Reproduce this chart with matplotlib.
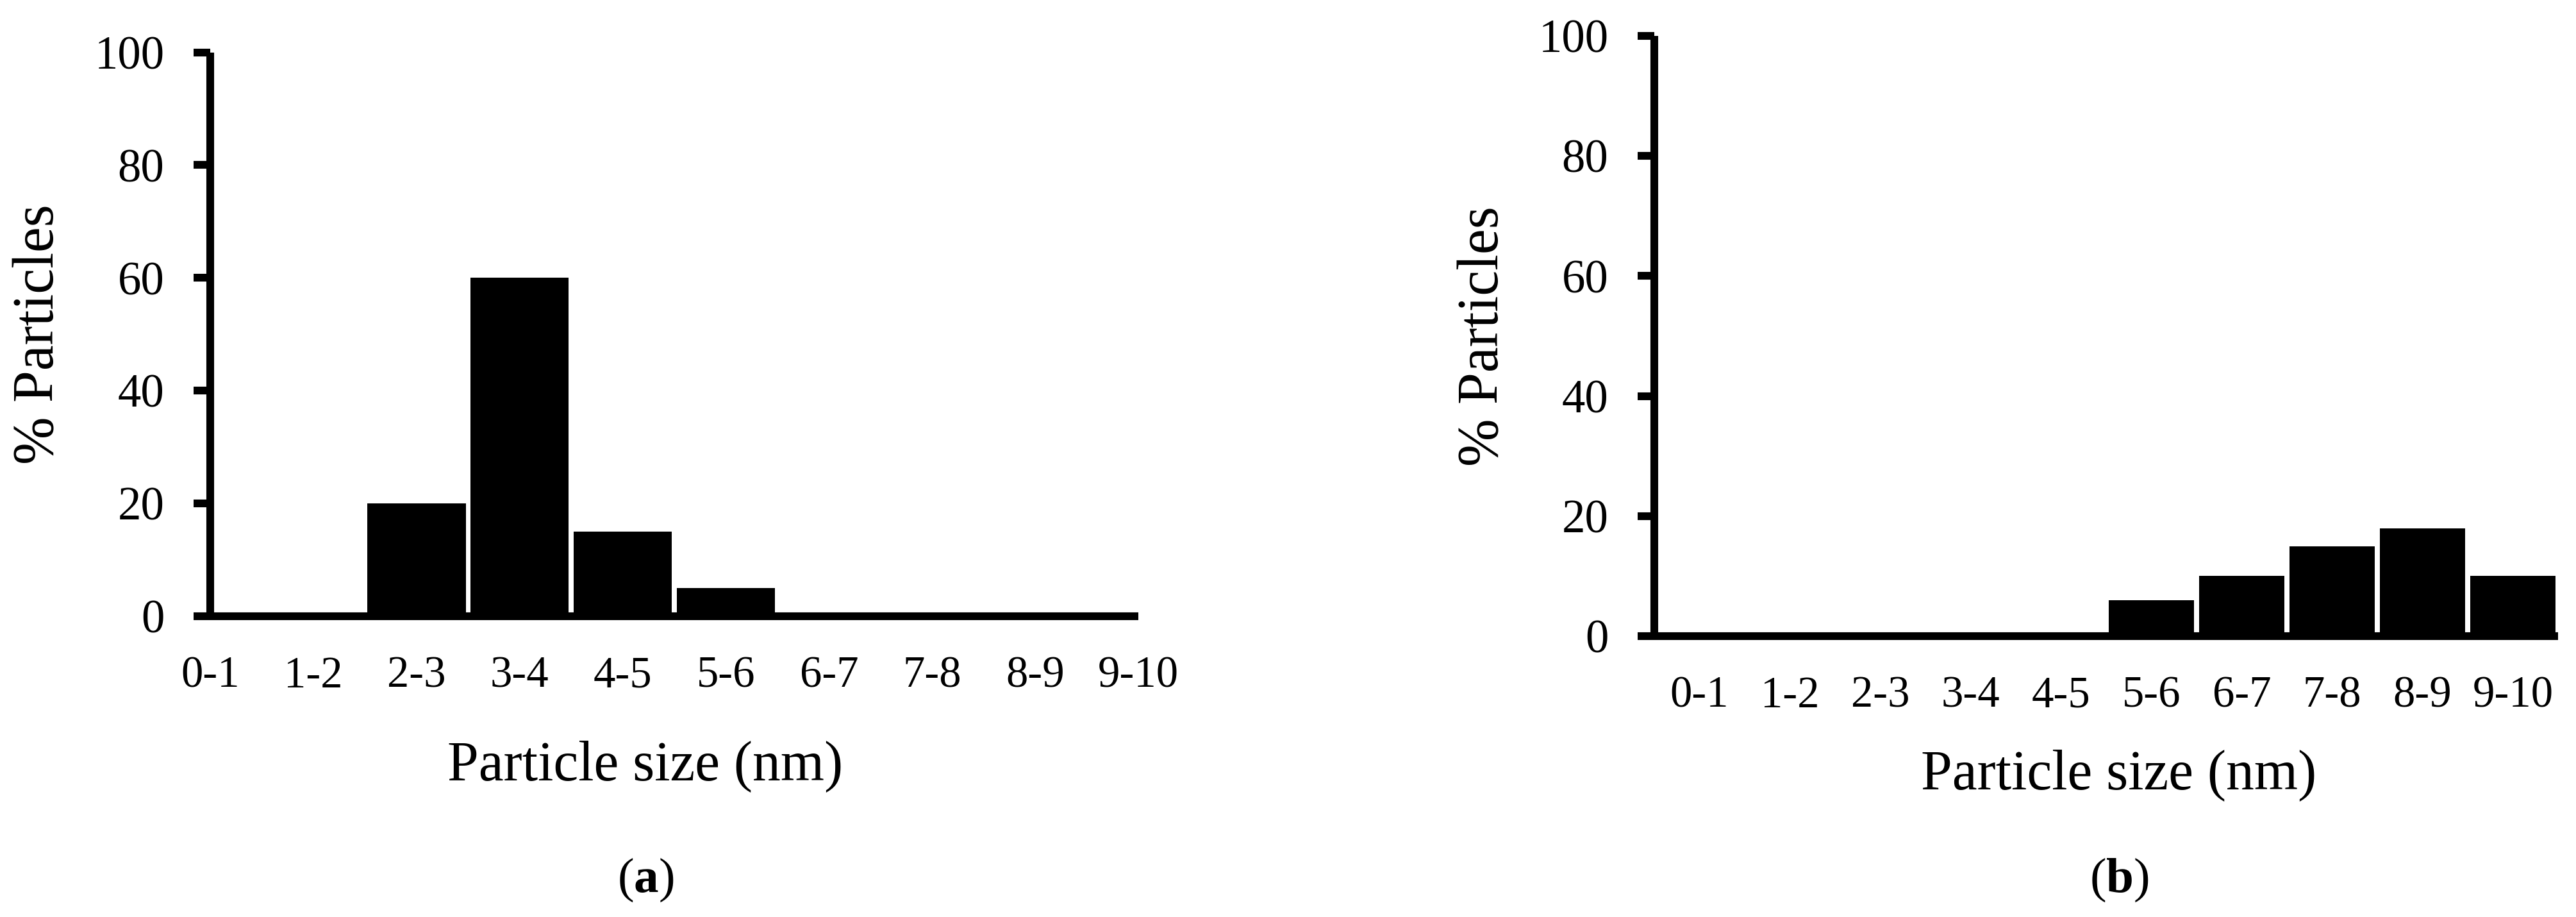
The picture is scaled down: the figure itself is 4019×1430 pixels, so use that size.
import matplotlib

matplotlib.use("Agg")

import matplotlib.pyplot as plt
import numpy as np

plt.rcParams["font.family"] = ["Liberation Serif", "DejaVu Serif"]
plt.rcParams["mathtext.fontset"] = "custom"
plt.rcParams["mathtext.rm"] = "Liberation Serif"
plt.rcParams["mathtext.bf"] = "Liberation Serif:bold"

size_bins = ["0-1", "1-2", "2-3", "3-4", "4-5", "5-6", "6-7", "7-8", "8-9", "9-10"]
particles_a = [0, 0, 20, 60, 15, 5, 0, 0, 0, 0]
particles_b = [0, 0, 0, 0, 0, 6, 10, 15, 18, 10]
y_ticks = [0, 20, 40, 60, 80, 100]


def style_axis(ax, label_x, xlabel_x, xlabel_pad):
    for side in ["top", "right"]:
        ax.spines[side].set_visible(False)
    for side in ["left", "bottom"]:
        ax.spines[side].set_linewidth(2.9)
        ax.spines[side].set_capstyle("butt")
    ax.set_ylim(0, 100)
    ax.set_yticks(y_ticks)
    ax.tick_params(axis="y", direction="out", length=6.2, width=2.9, pad=11, labelsize=17.5)
    ax.tick_params(axis="x", length=0, pad=15, labelsize=16.5)
    ax.set_ylabel("% Particles", fontsize=21.5)
    ax.yaxis.set_label_coords(label_x, 0.5)
    ax.set_xlabel("Particle size (nm)", fontsize=21, labelpad=xlabel_pad)
    ax.xaxis.label.set_x(xlabel_x)


fig = plt.figure(figsize=(4019 / 300, 1430 / 300), dpi=300)

ax_a = fig.add_axes([0.0816, 0.328, 0.3603, 0.615])
x = np.arange(len(size_bins))
ax_a.bar(x, particles_a, width=0.955, color="black", zorder=3)
ax_a.set_xlim(0, len(size_bins) - 1)
ax_a.set_xticks(x)
ax_a.set_xticklabels(size_bins)
style_axis(ax_a, -0.156, 0.469, 16)

ax_b = fig.add_axes([0.6422, 0.3063, 0.3508, 0.6545])
ax_b.bar(x, particles_b, width=0.94, color="black", zorder=3)
ax_b.set_xlim(-0.5, len(size_bins) - 0.5)
ax_b.set_xticks(x)
ax_b.set_xticklabels(size_bins)
style_axis(ax_b, -0.159, 0.514, 12)

fig.text(1007 / 4019, 1 - 1372 / 1430, r"($\mathbf{a}$)", ha="center", va="center", fontsize=18.5)
fig.text(3306 / 4019, 1 - 1372 / 1430, r"($\mathbf{b}$)", ha="center", va="center", fontsize=18.5)

fig.savefig("out.png", dpi=300, facecolor="white")
